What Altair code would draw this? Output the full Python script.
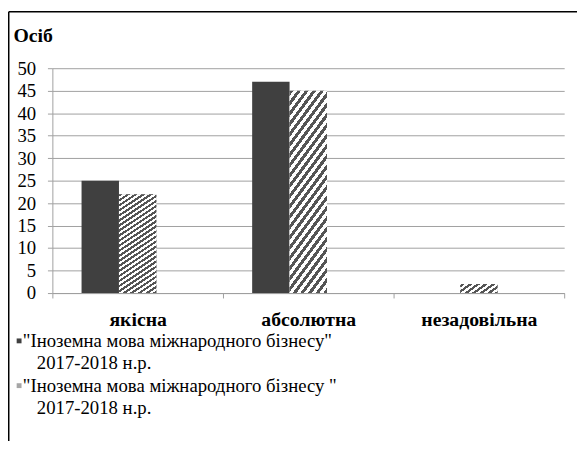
import altair as alt
import pandas as pd

# ---- data ----
categories = ["якісна", "абсолютна", "незадовільна"]
series_names = ['"Іноземна мова міжнародного бізнесу"', '"Іноземна мова міжнародного бізнесу "']
series_years = ["2017-2018 н.р.", "2017-2018 н.р."]
values_s1 = [25, 47, 0]
values_s2 = [22, 45, 2]
y_ticks = [0, 5, 10, 15, 20, 25, 30, 35, 40, 45, 50]
y_title = "Осіб"

# ---- styles ----
FONT = "Liberation Serif"
GRID = "#a0a0a0"
DARK = "#404040"
LIGHT = "#a6a6a6"
NB = "\u00a0"
ZW = "\u200b"

rows = []
for i, c in enumerate(categories):
    rows.append({"cat": c, "series": series_names[0], "val": values_s1[i]})
    rows.append({"cat": c, "series": series_names[1], "val": values_s2[i]})
df = pd.DataFrame(rows)

legend_domain = [series_names[0], ZW + NB * 3 + series_years[0],
                 series_names[1], ZW + NB * 3 + series_years[1] + NB]
legend_range = [DARK, "transparent", LIGHT, "transparent"]
offset_domain = [series_names[0], series_names[1], "(порожньо)"]

# diagonal stripe fill (style only)
period = 0.024
stops = []
for k in range(26):
    t0 = k * period
    stops += [
        alt.GradientStop(offset=round(t0, 4), color="#555555"),
        alt.GradientStop(offset=round(t0 + period / 2, 4), color="#555555"),
        alt.GradientStop(offset=round(t0 + period / 2, 4), color="#ffffff"),
        alt.GradientStop(offset=round(t0 + period, 4), color="#ffffff"),
    ]
stripe = alt.LinearGradient(gradient="linear", stops=stops, x1=0, y1=0, x2=0.5, y2=2)

x_enc = alt.X(
    "cat:N", sort=categories,
    scale=alt.Scale(paddingInner=0, paddingOuter=0),
    axis=alt.Axis(title=None, labelAngle=0, labelFont=FONT, labelFontSize=20,
                  labelFontWeight="bold", labelColor="black", labelPadding=12,
                  tickBand="extent", tickSize=5, tickColor=GRID, domainColor=GRID,
                  grid=False),
)
xo_enc = alt.XOffset(
    "series:N",
    scale=alt.Scale(domain=offset_domain, paddingInner=0, paddingOuter=0.78),
)
y_enc = alt.Y(
    "val:Q",
    scale=alt.Scale(domain=[0, 50], nice=False),
    axis=alt.Axis(values=y_ticks, title=y_title, titleAngle=0, titleAlign="left",
                  titleBaseline="alphabetic", titleX=-40, titleY=-27,
                  titleFont=FONT, titleFontSize=20, titleFontWeight="bold",
                  titleColor="black", labelFont=FONT, labelFontSize=19,
                  labelColor="black", labelPadding=12, tickSize=5,
                  tickColor=GRID, domainColor=GRID, grid=True, gridColor=GRID),
)

bars = alt.Chart(df).mark_bar(strokeWidth=0).encode(
    x=x_enc, xOffset=xo_enc, y=y_enc,
    fill=alt.Fill(
        "series:N",
        scale=alt.Scale(domain=legend_domain, range=legend_range),
        legend=alt.Legend(title=None, orient="none", legendX=-49, legendY=267,
                          symbolType="M1.2,-0.9H3V0.9H1.2Z", symbolSize=30,
                          symbolStrokeWidth=0, symbolOffset=0, labelOffset=0,
                          labelFont=FONT, labelFontSize=19, labelColor="black",
                          labelLimit=0, rowPadding=2.7, padding=0),
    ),
)

stripes = alt.Chart(df).transform_filter(
    alt.FieldEqualPredicate(field="series", equal=series_names[1])
).mark_bar(fill=stripe, strokeWidth=0).encode(x=x_enc, xOffset=xo_enc, y=y_enc)

one = pd.DataFrame({"k": [0]})
frame_top = alt.Chart(one).mark_rule(color="black", strokeWidth=1.5).encode(
    x=alt.value(-44.25), x2=alt.value(532), y=alt.value(-57.25))
frame_left = alt.Chart(one).mark_rule(color="black", strokeWidth=1.5).encode(
    x=alt.value(-44.25), y=alt.value(-57.25), y2=alt.value(378))

chart = alt.layer(frame_top, frame_left, bars, stripes).properties(
    width=519, height=228, background="white",
    autosize=alt.AutoSizeParams(type="none"),
    padding={"left": 45, "top": 58, "right": 13, "bottom": 150},
).configure_view(stroke=None)

chart.save("out.html", embed_options={"renderer": "svg", "actions": False})
